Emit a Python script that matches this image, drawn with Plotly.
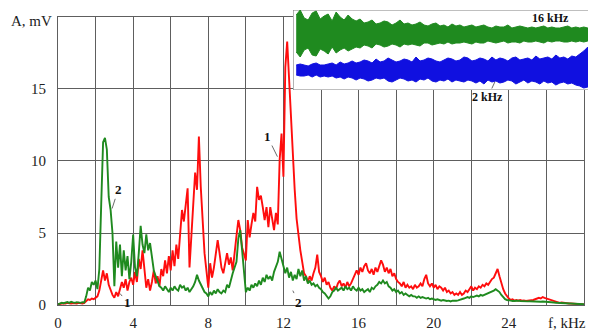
import plotly.graph_objects as go

# ---------------- data ----------------
red_1 = [
    0.05,0.08,0.10,0.12,0.10,0.15,0.12,0.10,0.14,0.12,
    0.10,0.15,0.12,0.10,0.15,0.30,0.40,0.35,0.45,0.40,
    0.50,0.60,1.00,1.80,2.40,1.70,2.20,1.40,1.00,0.70,
    0.50,0.90,0.60,1.20,1.60,1.20,1.80,1.00,1.60,1.90,
    1.40,2.30,1.60,3.20,2.50,3.80,2.20,1.20,1.80,1.00,
    1.60,2.40,1.50,2.00,1.30,2.50,2.00,3.10,2.20,3.40,
    2.40,3.80,2.70,4.20,3.20,5.00,6.60,5.80,6.90,8.10,
    2.60,4.80,6.20,9.20,8.00,11.70,8.20,5.40,3.60,2.40,
    1.20,2.90,1.90,2.60,3.40,4.50,3.60,2.60,2.20,3.00,
    3.60,2.80,3.30,2.40,3.90,4.80,5.90,5.20,4.00,3.60,
    3.10,5.90,4.70,5.60,6.40,5.80,8.20,7.30,7.60,6.80,
    5.90,6.80,5.40,6.80,6.00,5.20,6.40,5.60,10.10,11.90,
    8.90,16.50,18.30,15.60,13.50,11.00,8.00,6.00,4.70,3.80,
    3.00,2.20,2.00,1.60,2.00,1.70,2.20,2.60,3.50,2.30,
    2.00,1.60,1.90,1.40,1.60,1.20,1.00,1.30,1.10,1.50,
    1.70,1.30,1.50,1.20,1.60,1.30,1.50,1.80,2.00,2.40,
    2.10,2.60,2.30,2.70,2.90,2.40,2.20,2.50,2.10,2.60,
    2.30,2.70,3.10,2.80,2.30,2.60,2.20,2.50,2.00,2.20,
    1.80,1.60,1.50,1.30,1.60,1.20,1.40,1.20,1.30,1.10,
    1.40,1.20,1.30,1.50,1.30,1.80,2.10,1.50,1.30,1.50,
    1.20,1.40,1.10,1.30,1.20,1.00,1.20,0.90,1.00,0.80,
    0.90,0.70,0.80,0.70,0.90,0.70,0.80,1.00,0.90,1.10,
    1.30,1.00,1.20,1.10,1.30,1.20,1.40,1.30,1.50,1.40,
    1.60,1.80,1.90,2.20,2.50,2.00,1.50,1.10,0.80,0.60,
    0.45,0.35,0.40,0.30,0.35,0.30,0.35,0.30,0.32,0.28,
    0.30,0.33,0.30,0.35,0.40,0.45,0.50,0.45,0.55,0.50,
    0.45,0.40,0.35,0.30,0.25,0.20,0.20,0.15,0.18,0.15,
    0.12,0.12,0.10,0.10,0.08,0.08,0.06,0.06,0.05,0.05,
    0.04,
]

green_2 = [
    0.05,0.10,0.15,0.12,0.18,0.20,0.15,0.22,0.18,0.15,
    0.20,0.17,0.15,0.20,0.18,0.60,1.20,1.00,1.60,1.40,
    1.70,1.10,2.50,7.00,11.30,11.60,10.80,7.50,6.60,5.00,
    1.30,4.40,2.60,4.20,2.00,3.80,2.40,3.40,1.80,3.00,
    4.90,2.60,2.00,3.60,5.50,4.20,3.60,4.90,3.80,4.30,
    3.20,2.40,2.00,1.60,1.30,1.20,1.00,1.30,1.10,0.90,
    1.20,1.00,1.30,1.10,1.00,1.40,1.20,1.30,1.00,1.20,
    0.90,1.10,1.30,1.60,2.10,1.70,1.40,1.10,0.90,0.80,
    0.60,0.90,0.70,1.00,0.80,1.10,0.90,0.80,1.00,0.90,
    1.40,1.20,1.80,2.20,2.60,3.00,4.60,5.20,3.80,2.00,
    0.90,1.20,1.00,1.40,1.20,1.50,1.30,1.70,1.40,1.90,
    1.60,2.10,1.80,2.00,1.70,2.30,2.60,3.00,3.70,3.20,
    2.80,2.20,2.60,1.90,2.30,1.70,2.10,1.80,2.50,2.00,
    2.40,1.70,2.00,1.50,1.70,1.40,1.50,1.30,1.40,1.20,
    1.10,0.90,0.80,0.60,0.45,0.60,0.90,1.00,1.20,1.00,
    1.10,1.20,1.00,1.30,1.10,1.20,1.00,1.30,1.10,1.00,
    1.20,1.00,1.10,0.90,1.00,1.10,0.90,1.20,1.10,1.30,
    1.40,1.60,1.50,1.70,1.50,1.60,1.30,1.20,1.00,1.10,
    0.90,1.00,0.80,0.90,0.70,0.80,0.70,0.60,0.70,0.60,
    0.60,0.50,0.60,0.50,0.55,0.50,0.45,0.50,0.40,0.45,
    0.40,0.35,0.40,0.35,0.30,0.35,0.30,0.28,0.30,0.25,
    0.30,0.28,0.30,0.32,0.35,0.40,0.45,0.50,0.55,0.50,
    0.60,0.55,0.60,0.65,0.60,0.70,0.65,0.70,0.75,0.80,
    0.85,0.90,1.00,1.10,1.00,0.90,0.70,0.55,0.40,0.35,
    0.30,0.30,0.28,0.30,0.27,0.30,0.28,0.26,0.28,0.27,
    0.25,0.26,0.25,0.24,0.25,0.24,0.25,0.23,0.24,0.22,
    0.22,0.20,0.20,0.18,0.17,0.16,0.15,0.14,0.13,0.12,
    0.12,0.11,0.10,0.10,0.09,0.08,0.08,0.07,0.06,0.06,
    0.05,
]

freq_khz = [round(0.1 * i, 1) for i in range(len(red_1))]
assert len(red_1) == 281 and len(green_2) == 281

x_tick_vals = [0, 2, 4, 6, 8, 10, 12, 14, 16, 18, 20, 22, 24, 26, 28]
x_tick_text = ["0", "", "4", "", "8", "", "12", "", "16", "", "20", "", "24", "", ""]
y_tick_vals = [0, 5, 10, 15, 20]
y_tick_text = ["0", "5", "10", "15", ""]

# inset: waveform envelopes (amplitude above / below each trace centre)
inset_green_up = [20,25,17,15,22,24,16,19,21,14,23,18,15,20,16,
                  14,16,12,13,15,11,12,14,13,10,12,15,11,12,10,
                  11,13,10,9,11,12,9,10,8,11,9,10,8,9,10,
                  8,9,10,8,7,9,8,8,10,7,8,9,8,7,8,
                  7,8,9,7,8,7,7,8,9,7,8,7,8,7,7]
inset_green_dn = [17,22,15,13,20,21,14,16,19,12,18,15,13,16,14,
                  12,13,10,11,13,9,10,12,11,9,10,12,9,10,9,
                  10,11,8,8,10,9,8,9,7,9,8,8,7,8,9,
                  7,8,8,6,7,8,7,6,8,7,7,8,6,7,7,
                  6,7,8,6,7,6,6,7,7,6,7,6,7,6,6]
inset_blue_up = [5,6,5,4,6,7,5,5,6,7,5,8,6,7,9,
                 7,8,10,9,7,11,8,9,12,10,8,9,11,10,8,
                 13,9,10,12,11,9,8,10,12,11,9,10,13,12,9,
                 10,12,11,9,13,10,12,11,9,12,13,10,11,12,10,
                 14,11,12,13,11,15,12,13,11,14,13,16,19,23,17]
inset_blue_dn = [5,6,6,5,7,5,7,6,7,6,8,7,9,7,8,
                 10,8,9,11,10,8,9,8,11,12,10,8,9,11,10,
                 12,9,10,8,11,12,10,11,9,12,10,11,12,10,11,
                 13,11,14,10,12,11,13,12,10,11,14,12,10,13,11,
                 12,14,11,13,12,15,13,12,14,13,15,16,18,17,14]
assert len({len(inset_green_up), len(inset_green_dn), len(inset_blue_up), len(inset_blue_dn)}) == 1
inset_time = list(range(len(inset_green_up)))
green_centre = 55
blue_centre = 20
inset_xrange = [-0.8, len(inset_time) - 0.2]
inset_yrange = [0, 80]

# ---------------- figure ----------------
RED = "#ff0d0d"
GREEN = "#1f8a1f"
BLUE = "#1010e0"
GRID = "#5e5e5e"
SERIF = "Liberation Serif"

fig = go.Figure()

fig.add_trace(go.Scatter(x=freq_khz, y=red_1, mode="lines",
                         line=dict(color=RED, width=1.9), name="1",
                         xaxis="x", yaxis="y"))
fig.add_trace(go.Scatter(x=freq_khz, y=green_2, mode="lines",
                         line=dict(color=GREEN, width=1.9), name="2",
                         xaxis="x", yaxis="y"))

# inset white panel (background of the inset axes)
x0, x1 = inset_xrange
y0, y1 = inset_yrange
fig.add_trace(go.Scatter(x=[x0, x1, x1, x0, x0], y=[y0, y0, y1, y1, y0],
                         mode="lines", fill="toself", fillcolor="white",
                         line=dict(color="#808080", width=1.2),
                         xaxis="x2", yaxis="y2", hoverinfo="skip", cliponaxis=False))

# inset waveforms
fig.add_trace(go.Scatter(x=inset_time, y=[green_centre + v for v in inset_green_up],
                         mode="lines", line=dict(color=GREEN, width=1),
                         xaxis="x2", yaxis="y2"))
fig.add_trace(go.Scatter(x=inset_time, y=[green_centre - v for v in inset_green_dn],
                         mode="lines", line=dict(color=GREEN, width=1),
                         fill="tonexty", fillcolor=GREEN,
                         xaxis="x2", yaxis="y2"))
fig.add_trace(go.Scatter(x=inset_time, y=[blue_centre + v for v in inset_blue_up],
                         mode="lines", line=dict(color=BLUE, width=1),
                         xaxis="x2", yaxis="y2"))
fig.add_trace(go.Scatter(x=inset_time, y=[blue_centre - v for v in inset_blue_dn],
                         mode="lines", line=dict(color=BLUE, width=1),
                         fill="tonexty", fillcolor=BLUE,
                         xaxis="x2", yaxis="y2"))

# the page adds an 8 px body margin, so the figure is 8 px smaller each way
fig.update_layout(
    width=588, height=323,
    margin=dict(l=50, r=0, t=2, b=26, autoexpand=False),
    paper_bgcolor="white", plot_bgcolor="white",
    showlegend=False,
    font=dict(family=SERIF, size=15, color="#222"),
    xaxis=dict(domain=[0, 0.9777], range=[0, 28], anchor="y",
               tickmode="array", tickvals=x_tick_vals, ticktext=x_tick_text,
               showgrid=True, gridcolor=GRID, gridwidth=1.2,
               showline=True, linecolor=GRID, linewidth=1.2, mirror=True,
               zeroline=False, ticks="", ticklabelstandoff=4),
    yaxis=dict(domain=[0, 0.9763], range=[0, 20], anchor="x",
               tickmode="array", tickvals=y_tick_vals, ticktext=y_tick_text,
               showgrid=True, gridcolor=GRID, gridwidth=1.2,
               showline=True, linecolor=GRID, linewidth=1.2, mirror=True,
               zeroline=False, ticks="", ticklabelstandoff=8),
    xaxis2=dict(domain=[0.4368, 0.9981], range=inset_xrange, anchor="y2",
                showgrid=False, zeroline=False, showticklabels=False,
                showline=False),
    yaxis2=dict(domain=[0.7288, 1.0], range=inset_yrange, anchor="x2",
                showgrid=False, zeroline=False, showticklabels=False,
                showline=False),
)

ann_font = dict(family=SERIF, size=13, color="#111")
fig.add_annotation(x=0, y=20, xref="x", yref="y", text="A, mV", showarrow=False,
                   xanchor="right", yanchor="middle", xshift=-4, yshift=-4,
                   font=dict(family=SERIF, size=15, color="#222"))
fig.add_annotation(x=28, y=0, xref="x", yref="y", text="f, kHz", showarrow=False,
                   xanchor="right", yanchor="middle", xshift=4, yshift=-18,
                   font=dict(family=SERIF, size=15, color="#222"))
fig.add_annotation(x=11.68, y=10.3, ax=11.15, ay=11.7, axref="x", ayref="y",
                   text="<b>1</b>", showarrow=True, arrowhead=0, arrowwidth=0.8,
                   arrowcolor="#444", font=ann_font, standoff=0)
fig.add_annotation(x=2.88, y=6.7, ax=3.2, ay=8.0, axref="x", ayref="y",
                   text="<b>2</b>", showarrow=True, arrowhead=0, arrowwidth=0.8,
                   arrowcolor="#444", font=ann_font, standoff=0)
fig.add_annotation(x=3.3, y=0.8, ax=3.68, ay=0.2, axref="x", ayref="y",
                   text="<b>1</b>", showarrow=True, arrowhead=0, arrowwidth=0.8,
                   arrowcolor="#444", font=ann_font, standoff=0)
fig.add_annotation(x=12.5, y=1.0, ax=12.78, ay=0.2, axref="x", ayref="y",
                   text="<b>2</b>", showarrow=True, arrowhead=0, arrowwidth=0.8,
                   arrowcolor="#444", font=ann_font, standoff=0)
fig.add_annotation(x=0.9145, y=0.973, xref="paper", yref="paper", text="<b>16 kHz</b>",
                   showarrow=False, xanchor="center", yanchor="middle",
                   font=dict(family=SERIF, size=12, color="#111"))
fig.add_annotation(x=0.812, y=0.756, xref="paper", yref="paper", text="<b>2 kHz</b>",
                   showarrow=True, arrowhead=0, arrowwidth=0.8, arrowcolor="#444",
                   ax=-7, ay=15, standoff=0,
                   font=dict(family=SERIF, size=12, color="#111"))

fig.write_html("out.html")
